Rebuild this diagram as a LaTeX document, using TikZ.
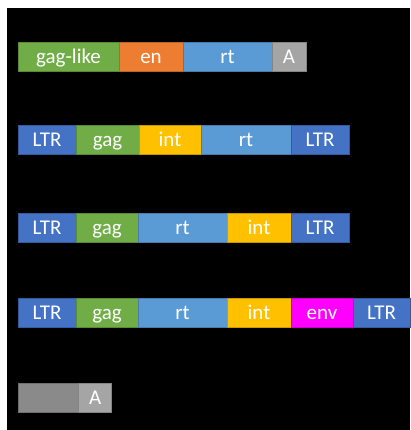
\documentclass[tikz,border=0pt]{standalone}
\usepackage{fontspec}
\setmainfont{Carlito}
\usetikzlibrary{positioning}
\definecolor{gaggreen}{HTML}{70AD47}
\definecolor{enorange}{HTML}{ED7D31}
\definecolor{rtblue}{HTML}{5B9BD5}
\definecolor{ltrblue}{HTML}{4472C4}
\definecolor{intgold}{HTML}{FFC000}
\definecolor{envpink}{HTML}{FF00FF}
\definecolor{agray}{HTML}{A5A5A5}
\definecolor{darkgray}{HTML}{8A8A8A}

\begin{document}
\begin{tikzpicture}[x=1pt,y=-1pt,
  seg/.style={rectangle,draw=#1!80!black,fill=#1,line width=0.6pt,minimum height=29pt,
    inner sep=0pt,text height=13.5pt,text depth=0pt,text=white,font=\fontsize{21}{24}\selectfont}]
\useasboundingbox (0,0) rectangle (411,430);
\fill[white] (0,0) rectangle (411,430);
\fill[black] (7,8) rectangle (410,430);
% gag-like / en / rt / A
\foreach \n/\xa/\xb/\col/\lab in {a/18/119/gaggreen/gag-like,b/119/183/enorange/en,c/183/272/rtblue/rt,d/272/306/agray/A} {
    \node[seg=\col,minimum width={(\xb-\xa)*1pt}] (r1\n) at ({(\xa+\xb)/2},57) {\lab};
}
% LTR gag int rt LTR
\foreach \n/\xa/\xb/\col/\lab in {a/18/76/ltrblue/LTR,b/76/139/gaggreen/gag,c/139/201/intgold/int,d/201/291/rtblue/rt,e/291/349/ltrblue/LTR} {
    \node[seg=\col,minimum width={(\xb-\xa)*1pt}] (r2\n) at ({(\xa+\xb)/2},140) {\lab};
}
% LTR gag rt int LTR
\foreach \n/\xa/\xb/\col/\lab in {a/18/76/ltrblue/LTR,b/76/138/gaggreen/gag,c/138/227/rtblue/rt,d/227/291/intgold/int,e/291/349/ltrblue/LTR} {
    \node[seg=\col,minimum width={(\xb-\xa)*1pt}] (r3\n) at ({(\xa+\xb)/2},228) {\lab};
}
% LTR gag rt int env LTR
\foreach \n/\xa/\xb/\col/\lab in {a/18/76/ltrblue/LTR,b/76/138/gaggreen/gag,c/138/227/rtblue/rt,d/227/291/intgold/int,e/291/353/envpink/env,f/353/410/ltrblue/LTR} {
    \node[seg=\col,minimum width={(\xb-\xa)*1pt}] (r4\n) at ({(\xa+\xb)/2},313) {\lab};
}
% gray / A
\node[seg=darkgray,minimum width=60pt] (r5a) at (48,398) {};
\node[seg=agray,minimum width=33pt,right=0pt of r5a] (r5b) {A};
\end{tikzpicture}
\end{document}
